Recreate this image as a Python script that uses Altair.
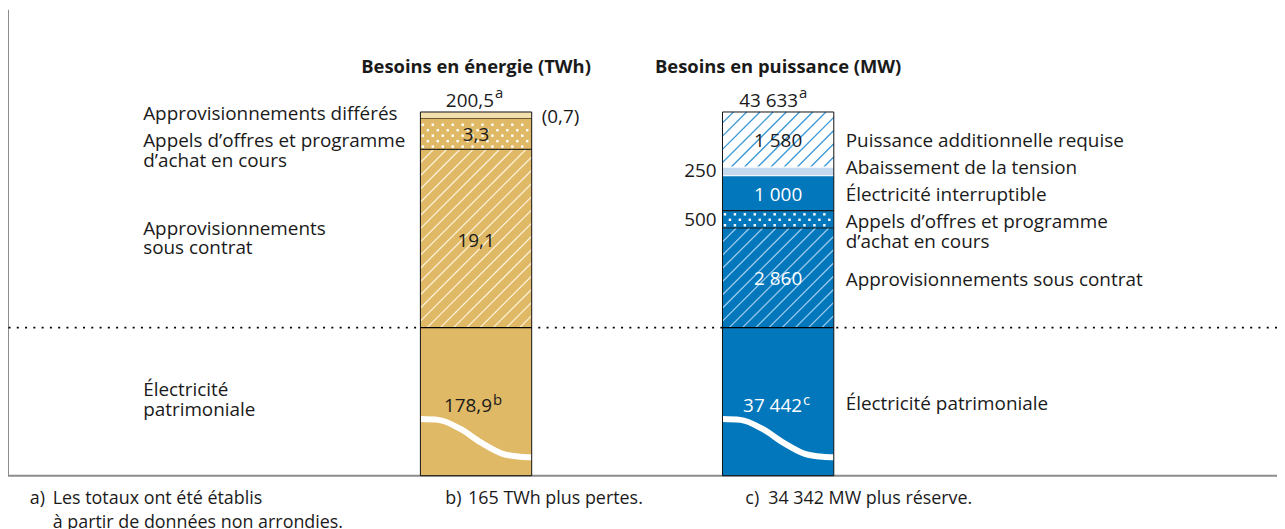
import altair as alt
import pandas as pd
import numpy as np

# ---------------- data ----------------
BAR_TITLES = ["Besoins en énergie (TWh)", "Besoins en puissance (MW)"]
TOTAL_LABELS = ["200,5", "43 633"]
TOTAL_NOTES = ["a", "a"]
BASE_NOTES = ["b", "c"]

ENERGY_SEGMENTS = ["Électricité\npatrimoniale", "Approvisionnements\nsous contrat",
                   "Appels d’offres et programme\nd’achat en cours", "Approvisionnements différés"]
ENERGY_VALUES = [178.9, 19.1, 3.3, 0.7]
ENERGY_VALUE_LABELS = ["178,9", "19,1", "3,3", "(0,7)"]

POWER_SEGMENTS = ["Électricité patrimoniale", "Approvisionnements sous contrat",
                  "Appels d’offres et programme\nd’achat en cours", "Électricité interruptible",
                  "Abaissement de la tension", "Puissance additionnelle requise"]
POWER_VALUES = [37442, 2860, 500, 1000, 250, 1580]
POWER_VALUE_LABELS = ["37 442", "2 860", "500", "1 000", "250", "1 580"]

FOOTNOTE_MARKS = ["a)", "b)", "c)"]
FOOTNOTE_TEXTS = ["Les totaux ont été établis\nà partir de données non arrondies.",
                  "165 TWh plus pertes.", "34 342 MW plus réserve."]

# ---------------- styles / layout ----------------
FONT = "Open Sans"
FS = 19
DARK = "#1a1a1a"
GOLD, GOLD_LIGHT = "#E0B966", "#F2DFAE"
BLUE, BLUE_LIGHT = "#0277BB", "#C4D8EE"
GRAY = "#8c8c8c"

W, H = 1277, 521
PX_X = 304.0      # px between the two bar centres
BAR_W = 112.0
PX_U = 217.0      # px of the part of each bar above the break
X0_PX = 471.0     # px of first bar centre
BREAK_PX = 320.0  # px of the break line
BASE_U = -149.0 / PX_U   # visible part of the broken base segment

xs = alt.Scale(domain=[-X0_PX / PX_X, (W - X0_PX) / PX_X], range=[0, W], nice=False, zero=False)
ys = alt.Scale(domain=[(BREAK_PX - H) / PX_U, BREAK_PX / PX_U], range=[H, 0], nice=False, zero=False)

BARS = [
    dict(idx=0, values=ENERGY_VALUES, labels=ENERGY_VALUE_LABELS, names=ENERGY_SEGMENTS,
         fills=[GOLD, GOLD, GOLD, GOLD_LIGHT],
         patterns=["wave", "hatch", "dots", None],
         hatch=[None, "#FBF0D6", None, None],
         seps=["#000000", "#2e2a22", "#6b5a33"],
         val_pos=["in", "in", "in", "out"],
         val_color=[DARK, DARK, DARK, DARK],
         val_dy=[0, 3, 1.5, 2],
         name_dx=-335, name_dy=[-1.5, 0, 17.5, -1],
         out_dx=66, out_align="left",
         total_dx=18, base_dx=16, base_color=DARK),
    dict(idx=1, values=POWER_VALUES, labels=POWER_VALUE_LABELS, names=POWER_SEGMENTS,
         fills=[BLUE, BLUE, BLUE, BLUE, BLUE_LIGHT, "#FFFFFF"],
         patterns=["wave", "hatch", "dots", None, None, "hatch"],
         hatch=[None, "#9CCBEE", None, None, None, "#3A98D6"],
         seps=["#000000", "#1a1a1a", "#1a1a1a", "#FFFFFF", "#FFFFFF"],
         val_pos=["in", "in", "out", "in", "out", "in"],
         val_color=["white", "white", DARK, "white", DARK, DARK],
         val_dy=[0, 1, 0.5, 1.5, 0, 2],
         name_dx=68, name_dy=[2.5, 2, 13, 1.5, -3.5, 1.5],
         out_dx=-62, out_align="right",
         total_dx=20, base_dx=24, base_color="white"),
]

WAVE_FX = [0, 0.16, 0.36, 0.55, 0.74, 0.9, 1.0]
WAVE_DOWN_PX = [92, 92.8, 102, 116, 127, 130, 130.5]

seg_rows, hatch_rows, dot_rows, wave_rows, sep_rows, outline_rows, texts = [], [], [], [], [], [], []
LH = 20


def T(x, y, text, align="center", baseline="middle", color=DARK, size=FS, weight="normal", lh=LH):
    n = text.count("\n") + 1
    if baseline == "middle" and n > 1:
        y += (n - 1) * lh / 2 / PX_U
    texts.append(dict(x=x, y=y, text=text, align=align, baseline=baseline,
                      color=color, size=size, weight=weight, lh=lh))


def hatch_lines(idx, lo_u, hi_u, color, spacing=13.3, phase=4.0):
    y0, y1 = lo_u * PX_U, hi_u * PX_U
    l, r = -BAR_W / 2, BAR_W / 2
    cmin, cmax = l - y1, r - y0
    c = np.floor((cmin - phase) / spacing) * spacing + phase
    while c <= cmax:
        lo, hi = max(y0, l - c), min(y1, r - c)
        if hi - lo > 0.5:
            hatch_rows.append(dict(x=idx + (lo + c) / PX_X, y=lo / PX_U,
                                   x2=idx + (hi + c) / PX_X, y2=hi / PX_U, color=color))
        c += spacing


def dot_grid(idx, lo_u, hi_u, sx=10.0, sy=5.5):
    y0, y1 = lo_u * PX_U, hi_u * PX_U
    y, r = y0 + sy / 2, 0
    while y < y1 - 1:
        x = -BAR_W / 2 + (2.5 if r % 2 == 0 else 7.5)
        while x < BAR_W / 2 - 1:
            dot_rows.append(dict(x=idx + x / PX_X, y=y / PX_U))
            x += sx
        y += sy
        r += 1


h = BAR_W / 2 / PX_X
for b in BARS:
    idx, vals = b["idx"], b["values"]
    above = sum(vals[1:])
    bounds = [BASE_U, 0.0]
    cum = 0.0
    for v in vals[1:]:
        cum += v
        bounds.append(cum / above)
    for i in range(len(vals)):
        lo, hi = bounds[i], bounds[i + 1]
        seg_rows.append(dict(x=idx - h, x2=idx + h, y=lo, y2=hi, fill=b["fills"][i]))
        if b["patterns"][i] == "hatch":
            hatch_lines(idx, lo, hi, b["hatch"][i])
        elif b["patterns"][i] == "dots":
            dot_grid(idx, lo, hi)
        mid = (lo + hi) / 2
        # value labels
        if i == 0:
            y_base = mid - 10.5 / PX_U
            T(idx + b["base_dx"] / PX_X, y_base, b["labels"][i], align="right",
              baseline="alphabetic", color=b["base_color"])
            T(idx + (b["base_dx"] + 1) / PX_X, y_base + 7 / PX_U, BASE_NOTES[idx], align="left",
              baseline="alphabetic", color=b["base_color"], size=15)
        elif b["val_pos"][i] == "in":
            T(idx, mid - b["val_dy"][i] / PX_U, b["labels"][i], color=b["val_color"][i])
        else:
            T(idx + b["out_dx"] / PX_X, mid - b["val_dy"][i] / PX_U, b["labels"][i],
              align=b["out_align"], color=b["val_color"][i])
        # category names
        T(idx + b["name_dx"] / PX_X, mid - b["name_dy"][i] / PX_U, b["names"][i], align="left")
    for j, col in enumerate(b["seps"]):
        sep_rows.append(dict(x=idx - h, x2=idx + h, y=bounds[j + 1], y2=bounds[j + 1], color=col))
    outline_rows.append(dict(x=idx - h, x2=idx + h, y=bounds[0], y2=bounds[-1]))
    for k, (fx, d) in enumerate(zip(WAVE_FX, WAVE_DOWN_PX)):
        wave_rows.append(dict(bar=idx, order=k, x=idx - h + fx * BAR_W / PX_X, y=-d / PX_U))
    # totals + titles
    T(idx + b["total_dx"] / PX_X, 1 + 5 / PX_U, TOTAL_LABELS[idx], align="right", baseline="alphabetic")
    T(idx + (b["total_dx"] + 1) / PX_X, 1 + 14 / PX_U, TOTAL_NOTES[idx], align="left",
      baseline="alphabetic", size=15)
    T(idx, 1 + 45 / PX_U, BAR_TITLES[idx], weight="bold", size=18.5)

# footnotes
FOOT_MARK_PX = [30, 448, 750]
FOOT_TEXT_PX = [53, 471, 773]
for m, t, mx, tx in zip(FOOTNOTE_MARKS, FOOTNOTE_TEXTS, FOOT_MARK_PX, FOOT_TEXT_PX):
    yb = BASE_U - 28 / PX_U
    T((mx - 8 - X0_PX) / PX_X, yb, m, align="left", baseline="alphabetic", size=18, lh=25)
    T((tx - 8 - X0_PX) / PX_X, yb, t, align="left", baseline="alphabetic", size=18, lh=25)

X = lambda f="x": alt.X(f"{f}:Q", scale=xs, axis=None)
Y = lambda f="y": alt.Y(f"{f}:Q", scale=ys, axis=None)

layers = []
# frame lines
layers.append(alt.Chart(pd.DataFrame({"y": [BASE_U]})).mark_rule(color=GRAY, strokeWidth=2)
              .encode(y=Y()))
layers.append(alt.Chart(pd.DataFrame({"x": [xs.domain[0]], "y": [BASE_U], "y2": [ys.domain[1]]}))
              .mark_rule(color=GRAY, strokeWidth=2).encode(x=X(), y=Y(), y2=alt.Y2("y2:Q")))
layers.append(alt.Chart(pd.DataFrame({"y": [0.0]})).mark_rule(color="#000000", strokeWidth=2, strokeDash=[2, 6.33])
              .encode(y=Y()))
# segments
layers.append(alt.Chart(pd.DataFrame(seg_rows)).mark_rect(strokeWidth=0)
              .encode(x=X(), x2=alt.X2("x2:Q"), y=Y(), y2=alt.Y2("y2:Q"),
                      color=alt.Color("fill:N", scale=None)))
layers.append(alt.Chart(pd.DataFrame(hatch_rows)).mark_rule(strokeWidth=1.3)
              .encode(x=X(), x2=alt.X2("x2:Q"), y=Y(), y2=alt.Y2("y2:Q"),
                      color=alt.Color("color:N", scale=None)))
layers.append(alt.Chart(pd.DataFrame(dot_rows)).mark_square(size=6, color="white", opacity=1, filled=True)
              .encode(x=X(), y=Y()))
layers.append(alt.Chart(pd.DataFrame(wave_rows)).mark_line(color="white", strokeWidth=6, interpolate="monotone",
                                                           strokeCap="butt")
              .encode(x=X(), y=Y(), detail="bar:N", order="order:Q"))
layers.append(alt.Chart(pd.DataFrame(sep_rows)).mark_rule(strokeWidth=1.2)
              .encode(x=X(), x2=alt.X2("x2:Q"), y=Y(), y2=alt.Y2("y2:Q"),
                      color=alt.Color("color:N", scale=None)))
layers.append(alt.Chart(pd.DataFrame(outline_rows)).mark_rect(filled=False, stroke="#111111", strokeWidth=1)
              .encode(x=X(), x2=alt.X2("x2:Q"), y=Y(), y2=alt.Y2("y2:Q")))
# texts
tdf = pd.DataFrame(texts)
for (al, bl, wt, lh), g in tdf.groupby(["align", "baseline", "weight", "lh"]):
    layers.append(alt.Chart(g.drop(columns=["align", "baseline", "weight", "lh"]))
                  .mark_text(align=al, baseline=bl, fontWeight=wt, font=FONT, lineBreak="\n",
                             lineHeight=float(lh))
                  .encode(x=X(), y=Y(), text="text:N",
                          color=alt.Color("color:N", scale=None),
                          size=alt.Size("size:Q", scale=None)))

chart = (alt.layer(*layers)
         .properties(width=W, height=H, padding=0, autosize=alt.AutoSizeParams(type="none"),
                     background="white")
         .configure_view(stroke=None))

chart.save("out.html", embed_options={"renderer": "svg", "actions": False})
